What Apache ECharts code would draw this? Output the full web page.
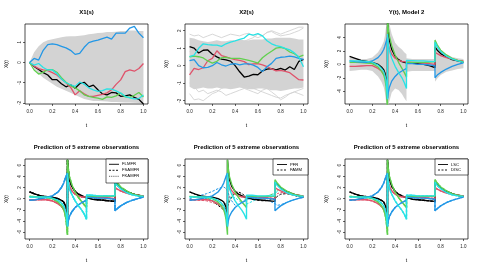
<!DOCTYPE html>
<html><head><meta charset="utf-8">
<script src="https://cdn.jsdelivr.net/npm/echarts@6.0.0/dist/echarts.min.js"></script>
<style>html,body{margin:0;padding:0;background:#fff}#c{width:480px;height:270px}</style>
</head><body><div id="c"></div>
<script>
// ---------- data ----------
const tTicks = [0, 0.2, 0.4, 0.6, 0.8, 1.0];
const tX = [0,0.04,0.08,0.12,0.16,0.2,0.24,0.28,0.32,0.36,0.4,0.44,0.48,0.52,0.56,0.6,0.64,0.68,0.72,0.76,0.8,0.84,0.88,0.92,0.96,1.0];

// Panel 1: X1(s)
const x1Black = [0,-0.2,-0.35,-0.5,-0.62,-0.85,-0.85,-1.05,-1.2,-1.1,-1.27,-1.05,-0.98,-1.2,-1.12,-1.35,-1.55,-1.6,-1.48,-1.5,-1.67,-1.65,-1.6,-1.72,-1.82,-2.05];
const x1Red   = [0,-0.18,-0.3,-0.36,-0.4,-0.5,-0.62,-0.82,-1.0,-1.22,-1.6,-1.4,-1.55,-1.67,-1.67,-1.62,-1.57,-1.5,-1.35,-1.08,-0.86,-0.45,-0.37,-0.43,-0.3,-0.05];
const x1Green = [0,-0.37,-0.57,-0.48,-0.35,-0.35,-0.48,-0.75,-0.98,-1.15,-1.25,-1.4,-1.6,-1.67,-1.72,-1.76,-1.82,-1.7,-1.72,-1.65,-1.51,-1.7,-1.72,-1.62,-1.48,-1.7];
const x1Blue  = [0,0.2,0.12,0.6,0.88,0.92,0.88,0.8,0.72,0.6,0.4,0.45,0.75,0.98,1.05,1.1,1.18,1.25,1.15,1.45,1.45,1.45,1.7,1.78,1.45,1.22];
const x1Cyan  = [0,-0.13,-0.05,-0.25,-0.37,-0.37,-0.55,-0.82,-1.0,-1.1,-1.18,-0.97,-1.07,-1.25,-1.35,-1.43,-1.39,-1.3,-1.32,-1.4,-1.51,-1.67,-1.75,-1.8,-1.78,-1.6];
const x1Upper = [0,0.5,0.8,1.0,1.1,1.15,1.2,1.25,1.28,1.3,1.3,1.32,1.35,1.4,1.42,1.45,1.47,1.5,1.5,1.52,1.55,1.55,1.58,1.58,1.55,1.55];
const x1Lower = [0,-0.3,-0.55,-0.75,-0.9,-1.05,-1.2,-1.3,-1.4,-1.5,-1.6,-1.7,-1.8,-1.85,-1.9,-1.9,-1.92,-1.93,-1.95,-1.95,-1.96,-1.97,-1.98,-1.99,-2.0,-2.0];

// Panel 2: X2(s)
const x2Black = [1.09,1.0,0.72,0.88,0.9,0.65,0.5,0.37,0.33,0.26,0.0,-0.35,-0.65,-0.6,-0.5,-0.52,-0.3,-0.2,-0.17,-0.24,-0.15,-0.25,-0.06,-0.22,0.25,0.36];
const x2Red   = [-0.53,-0.15,-0.22,-0.12,0.28,0.42,0.85,0.58,0.5,0.42,0.35,0.3,0.23,0.06,0.1,0.12,0.05,-0.05,-0.18,-0.3,-0.27,-0.32,-0.4,-0.6,-0.8,-0.82];
const x2Green = [0.51,0.55,0.51,0.44,0.27,0.15,0.25,0.45,0.48,0.42,0.42,0.42,0.36,0.3,0.23,0.15,0.45,0.65,0.82,1.0,1.05,0.97,0.78,0.68,0.5,0.6];
const x2Blue  = [0.29,0.35,0.0,-0.12,-0.1,0.0,0.18,0.05,-0.02,0.08,0.12,0.05,0.1,0.1,0.03,-0.1,-0.34,-0.06,0.13,0.42,0.48,0.5,0.55,0.5,0.42,0.36];
const x2Cyan  = [0.51,0.6,0.99,1.25,1.2,1.18,1.17,1.1,1.25,1.35,1.42,1.5,1.58,1.8,1.75,1.83,1.7,1.42,1.25,1.15,1.09,0.99,0.9,0.73,0.5,-0.06];
const x2Upper = [1.6,1.55,1.45,1.4,1.35,1.4,1.45,1.4,1.4,1.45,1.45,1.5,1.45,1.45,1.5,1.5,1.5,1.55,1.55,1.6,1.6,1.6,1.6,1.55,1.5,1.5];
const x2Lower = [-1.2,-1.35,-1.3,-1.25,-1.3,-1.3,-1.25,-1.3,-1.3,-1.35,-1.3,-1.25,-1.3,-1.35,-1.35,-1.3,-1.3,-1.35,-1.4,-1.4,-1.45,-1.4,-1.35,-1.3,-1.3,-1.25];
const x2GreyA = [0.8,0.9,1.0,0.8,0.9,1.0,1.1,1.2,1.0,1.1,1.3,1.2,1.4,1.5,1.6,1.8,1.7,1.9,2.0,1.9,1.8,1.9,2.0,2.1,2.2,2.2];
const x2GreyB = [-1.6,-1.95,-1.9,-2.0,-1.8,-1.6,-1.5,-1.3,-1.2,-1.0,-0.9,-1.0,-1.1,-1.2,-1.3,-1.4,-1.5,-1.6,-1.7,-1.8,-1.85,-1.7,-1.6,-1.5,-1.6,-1.7];
const x2GreyC = [-1.0,-1.2,-1.5,-1.4,-1.6,-1.5,-1.4,-1.5,-1.7,-1.6,-1.5,-1.4,-1.3,-1.4,-1.5,-1.6,-1.4,-1.3,-1.5,-1.7,-1.95,-1.8,-1.6,-1.5,-1.4,-1.3];
const x2GreyD = [1.8,1.7,1.75,1.6,1.7,1.8,1.7,1.6,1.7,1.8,1.75,1.7,1.8,1.85,1.7,1.6,1.7,1.9,1.95,1.8,1.7,1.75,1.8,1.9,2.0,2.15];

// Panels 3-6: grid with repeated t at the jumps
const tY = [0,0.05,0.1,0.15,0.2,0.25,0.28,0.3,0.31,0.32,0.333,0.333,0.34,0.35,0.37,0.4,0.43,0.46,0.48,0.5,0.5,0.55,0.6,0.65,0.7,0.75,0.75,0.77,0.8,0.85,0.9,0.95,1.0];

// Panel 3: Y(t), Model 2
const y3Black = [1.2,0.9,0.6,0.45,0.3,0.0,-0.4,-0.8,-1.2,-2.0,-5.0,7.0,5.0,3.6,2.2,1.2,0.7,0.4,0.3,0.2,0.3,0.2,0.1,0.0,-0.2,-0.5,2.6,2.1,1.6,1.1,0.7,0.5,0.3];
const y3Red   = [-0.3,-0.3,-0.25,-0.2,-0.2,-0.6,-1.0,-1.4,-1.8,-2.5,-4.0,4.0,3.0,2.3,1.5,0.9,0.6,0.45,0.4,0.35,0.3,0.3,0.25,0.2,0.1,0.0,1.8,1.6,1.3,1.0,0.8,0.6,0.5];
const y3Green = [0.3,0.3,0.25,0.2,0.1,-0.4,-1.0,-1.6,-2.2,-3.2,-7.0,7.0,5.5,4.2,2.8,1.4,0.3,-0.6,-1.2,-1.9,0.3,0.3,0.3,0.3,0.35,0.4,3.6,2.9,2.1,1.4,0.9,0.6,0.4];
const y3Blue  = [0.5,0.4,0.35,0.3,0.5,1.0,1.6,2.2,2.7,3.3,4.0,-5.2,-4.2,-3.4,-2.5,-1.8,-1.3,-1.0,-0.8,-0.6,0.1,0.1,0.0,0.0,-0.1,-0.2,-2.0,-1.6,-1.2,-0.7,-0.3,0.0,0.2];
const y3Cyan  = [0.5,0.5,0.5,0.45,0.3,-0.1,-0.6,-1.1,-1.6,-2.4,-5.2,4.5,3.0,2.0,0.9,-0.3,-1.2,-2.0,-2.7,-3.6,0.6,0.55,0.5,0.5,0.45,0.4,3.3,2.6,1.9,1.2,0.8,0.5,0.3];
const y3Upper = [1.0,0.9,0.8,0.8,1.0,1.8,2.6,3.4,4.2,5.5,8,8,7,6,4.5,3.2,2.6,2.2,1.8,1.5,0.9,0.8,0.8,0.8,0.8,0.8,3.8,3.0,2.2,1.5,1.1,0.9,0.8];
const y3Lower = [-1.0,-0.9,-0.8,-0.8,-1.0,-1.8,-2.6,-3.4,-4.2,-5.5,-8,-8,-6.5,-5.5,-4.2,-3.6,-3.8,-4.4,-5.0,-5.5,-1.1,-1.0,-1.0,-1.0,-1.0,-1.0,-2.6,-2.1,-1.6,-1.1,-0.9,-0.7,-0.6];

// Predictions (panels 4-6)
const pBlack = [1.2,0.8,0.5,0.35,0.25,0.0,-0.3,-0.6,-0.9,-1.5,-3.0,7.0,5.0,3.5,2.2,1.3,0.8,0.5,0.3,0.2,0.0,-0.1,-0.2,-0.3,-0.4,-0.5,3.0,2.5,1.9,1.3,0.9,0.6,0.4];
const pRed   = [-0.2,-0.2,-0.15,-0.2,-0.4,-0.9,-1.4,-1.9,-2.4,-3.2,-4.5,4.0,3.0,2.2,1.4,0.8,0.5,0.3,0.3,0.3,0.3,0.3,0.3,0.2,0.1,0.0,2.0,1.7,1.4,1.0,0.8,0.6,0.5];
const pGreen = [0.4,0.35,0.3,0.2,0.0,-0.6,-1.3,-2.0,-2.7,-3.7,-6.5,7.0,5.5,4.0,2.6,1.2,0.2,-0.6,-1.1,-1.6,0.4,0.4,0.4,0.4,0.4,0.4,3.4,2.8,2.1,1.4,0.9,0.6,0.4];
const pBlue  = [-0.3,-0.2,0.0,0.2,0.5,1.2,2.0,2.8,3.4,4.0,4.6,-5.0,-4.0,-3.2,-2.4,-1.6,-1.1,-0.7,-0.5,-0.3,0.2,0.2,0.1,0.1,0.0,-0.1,-2.2,-1.8,-1.3,-0.7,-0.3,0.0,0.3];
const pCyan  = [0.3,0.3,0.3,0.3,0.1,-0.3,-0.8,-1.3,-1.9,-2.7,-5.0,4.5,3.0,1.8,0.8,-0.4,-1.3,-2.1,-2.8,-3.7,0.6,0.6,0.5,0.5,0.5,0.5,3.0,2.4,1.8,1.1,0.7,0.5,0.4];
// FAMM (smooth) predictions, panel 5
const famBlack = [1.2,0.8,0.4,0.1,-0.4,-1.2,-1.7,-2.0,-2.0,-1.8,-1.4,-1.4,-1.0,-0.5,0.3,1.1,1.2,0.9,0.6,0.3,0.3,0.0,-0.3,-0.4,-0.3,0.0,0.0,0.4,0.8,0.9,0.7,0.4,0.2];
const famRed   = [-0.3,-0.3,-0.3,-0.4,-0.7,-1.0,-1.2,-1.2,-1.1,-0.9,-0.5,-0.5,-0.1,0.3,0.8,1.0,0.8,0.5,0.3,0.3,0.3,0.2,0.1,0.1,0.2,0.5,0.5,0.9,1.1,1.0,0.8,0.6,0.5];
const famGreen = [0.4,0.3,0.2,0.0,-0.4,-1.0,-1.4,-1.6,-1.6,-1.4,-1.0,-1.0,-0.6,-0.2,0.4,0.9,0.8,0.5,0.2,0.0,0.0,0.1,0.2,0.3,0.6,1.0,1.0,1.5,1.7,1.4,1.0,0.6,0.4];
const famBlue  = [0.0,0.3,0.6,0.9,1.3,1.8,2.0,2.1,2.0,1.8,1.4,1.4,1.0,0.4,-0.4,-1.2,-1.0,-0.6,-0.3,-0.1,-0.1,0.0,0.1,0.0,-0.4,-0.9,-0.9,-1.2,-1.1,-0.7,-0.3,0.0,0.2];
const famCyan  = [0.3,0.3,0.2,0.0,-0.3,-0.8,-1.1,-1.2,-1.1,-0.9,-0.6,-0.6,-0.3,0.0,0.3,0.2,-0.3,-0.8,-1.0,-1.0,-1.0,-0.5,0.0,0.3,0.6,0.9,0.9,1.3,1.5,1.2,0.8,0.5,0.3];

const yTicks1 = [-2,-1,0,1];
const yTicks2 = [-2,-1,0,1,2];
const yTicks3 = [-4,-2,0,2,4];
const yTicksP = [-6,-4,-2,0,2,4,6];

const titles = ['X1(s)','X2(s)','Y(t), Model 2','Prediction of 5 extreme observations','Prediction of 5 extreme observations','Prediction of 5 extreme observations'];
const legend4 = ['FLMFR','FSAMFR','FKAMFR'];
const legend5 = ['PFR','FAMM'];
const legend6 = ['LSC','DISC'];

// ---------- styling / layout ----------
const C = {black:'#000000', red:'#DF536B', green:'#61D04F', blue:'#2297E6', cyan:'#28E2E5', grey:'#d3d3d3'};
const FONT = '"Liberation Sans", Arial, sans-serif';
const pos = [[25,24],[185,24],[345,24],[25,159],[185,159],[345,159]];
const yRange = [[-2.05,1.9],[-2.19,2.38],[-5.9,6.0],[-7.26,7.13],[-7.26,7.13],[-7.26,7.13]];
const yTk = [yTicks1,yTicks2,yTicks3,yTicksP,yTicksP,yTicksP];

const grid = pos.map(p => ({left:p[0], top:p[1], width:123, height:80, show:true, borderColor:'#000', borderWidth:0.7, backgroundColor:'transparent'}));
const xAxis = pos.map((p,i) => ({
  type:'value', gridIndex:i, min:-0.04, max:1.04, name:'t', nameLocation:'middle', nameGap:19,
  nameTextStyle:{fontSize:5, color:'#000', fontFamily:FONT},
  axisLine:{show:false, onZero:false}, splitLine:{show:false},
  axisTick:{show:true, length:2, customValues:tTicks, lineStyle:{color:'#000', width:0.6}},
  axisLabel:{show:true, customValues:tTicks, formatter:v=>v.toFixed(1), fontSize:4.5, color:'#222', margin:5, fontFamily:FONT}
}));
const yAxis = pos.map((p,i) => ({
  type:'value', gridIndex:i, min:yRange[i][0], max:yRange[i][1], name:'X(t)', nameLocation:'middle', nameGap:16,
  nameTextStyle:{fontSize:5, color:'#000', fontFamily:FONT},
  axisLine:{show:false, onZero:false}, splitLine:{show:false},
  axisTick:{show:true, length:2, customValues:yTk[i], lineStyle:{color:'#000', width:0.6}},
  axisLabel:{show:true, customValues:yTk[i], rotate:90, fontSize:4.5, color:'#222', margin:3, fontFamily:FONT}
}));

const series = [];
function line(idx, t, ys, color, width, type, z) {
  series.push({type:'line', xAxisIndex:idx, yAxisIndex:idx, data:t.map((x,k)=>[x, ys[k]]),
    symbol:'none', showSymbol:false, silent:true, animation:false, clip:true, z:z||3,
    lineStyle:{color:color, width:width, type:type||'solid'}, itemStyle:{color:color}});
}
function band(idx, t, up, lo) {
  series.push({type:'custom', xAxisIndex:idx, yAxisIndex:idx, silent:true, animation:false, z:1, data:[[0,0]],
    renderItem:(params, api) => {
      const cs = params.coordSys;
      const pts = [];
      for (let k=0;k<t.length;k++) pts.push(api.coord([t[k], up[k]]));
      for (let k=t.length-1;k>=0;k--) pts.push(api.coord([t[k], lo[k]]));
      const cl = pts.map(p => [p[0], Math.min(Math.max(p[1], cs.y), cs.y + cs.height)]);
      return {type:'polygon', shape:{points:cl}, style:{fill:C.grey}};
    }});
}

// panel 1
band(0, tX, x1Upper, x1Lower);
[[x1Black,C.black],[x1Red,C.red],[x1Green,C.green],[x1Blue,C.blue],[x1Cyan,C.cyan]].forEach(s=>line(0,tX,s[0],s[1],1.3));
// panel 2
band(1, tX, x2Upper, x2Lower);
[x2GreyA,x2GreyB,x2GreyC,x2GreyD].forEach(g=>line(1,tX,g,C.grey,0.9,'solid',2));
[[x2Black,C.black],[x2Red,C.red],[x2Green,C.green],[x2Blue,C.blue],[x2Cyan,C.cyan]].forEach(s=>line(1,tX,s[0],s[1],1.3));
// panel 3
band(2, tY, y3Upper, y3Lower);
[[y3Black,C.black],[y3Red,C.red],[y3Green,C.green],[y3Blue,C.blue],[y3Cyan,C.cyan]].forEach(s=>line(2,tY,s[0],s[1],1.3));
// panel 4: FLMFR / FSAMFR / FKAMFR
const pred = [[pBlack,C.black],[pRed,C.red],[pGreen,C.green],[pBlue,C.blue],[pCyan,C.cyan]];
['dotted','dashed','solid'].forEach(ty => pred.forEach(s=>line(3,tY,s[0],s[1],1.4,ty)));
// panel 5: PFR / FAMM
const fam = [[famBlack,C.black],[famRed,C.red],[famGreen,C.green],[famBlue,C.blue],[famCyan,C.cyan]];
fam.forEach(s=>line(4,tY,s[0],s[1],1.0,[2.5,1.5]));
pred.forEach(s=>line(4,tY,s[0],s[1],1.4));
// panel 6: LSC / DISC
pred.forEach(s=>line(5,tY,s[0],s[1],1.4,[2.5,1.5]));
pred.forEach(s=>line(5,tY,s[0],s[1],1.4));

// ---------- titles & legends ----------
const graphic = [];
pos.forEach((p,i) => graphic.push({type:'text', x:p[0]+61.5, y:(i<3?12.5:147.5), z:50,
  style:{text:titles[i], fill:'#000', font:'bold 6px '+FONT, align:'center', verticalAlign:'middle', textAlign:'center', textVerticalAlign:'middle'}}));
function legend(x, y, w, h, lx1, lx2, tx, rows, names, dashes) {
  graphic.push({type:'rect', z:100, shape:{x:x, y:y, width:w, height:h}, style:{fill:'#fff', stroke:'#000', lineWidth:0.6}});
  names.forEach((n,k) => {
    graphic.push({type:'line', z:101, shape:{x1:lx1, y1:rows[k], x2:lx2, y2:rows[k]}, style:{stroke:'#000', lineWidth:0.9, lineDash:dashes[k]}});
    graphic.push({type:'text', z:101, x:tx, y:rows[k], style:{text:n, fill:'#000', font:'4.2px '+FONT, verticalAlign:'middle', textVerticalAlign:'middle'}});
  });
}
legend(106,159,42,24,109,119,122,[164.3,170.3,176.3],legend4,[null,[2,1.5],[0.7,1.2]]);
legend(273,159,35,16,277,287,290,[164.5,170],legend5,[null,[2,1.5]]);
legend(435,159,33,16,438,448,451,[164.5,170],legend6,[null,[2,1.5]]);

const chart = echarts.init(document.getElementById('c'), null, {renderer:'canvas'});
chart.setOption({animation:false, backgroundColor:'#fff', grid, xAxis, yAxis, series, graphic});
</script></body></html>
